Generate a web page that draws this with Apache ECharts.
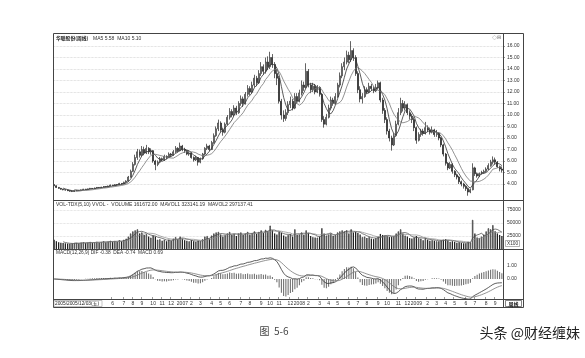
<!DOCTYPE html>
<html>
<head>
<meta charset="utf-8">
<script src="https://cdn.jsdelivr.net/npm/echarts@6.0.0/dist/echarts.min.js"></script>
<style>
html,body{margin:0;padding:0;background:#fff;}
#chart{width:585px;height:358px;}
</style>
</head>
<body>
<div id="chart"></div>
<script>
// ---- weekly OHLC ----
const opens = [
3.95,3.85,3.70,3.62,3.55,3.50,3.48,3.42,3.38,3.35,
3.40,3.45,3.42,3.50,3.55,3.52,3.58,3.62,3.60,3.65,
3.70,3.68,3.72,3.78,3.75,3.82,3.90,3.86,3.95,3.92,
4.05,4.00,4.15,4.25,4.60,5.10,5.70,6.30,6.80,6.50,
7.00,6.70,7.10,6.80,6.90,6.00,5.70,5.90,6.20,6.10,
6.40,6.30,6.60,6.50,6.80,7.10,6.90,7.30,7.00,6.90,
6.60,6.70,6.30,6.10,6.30,5.90,6.20,6.60,7.10,7.30,
7.00,7.60,8.20,8.80,9.30,8.70,8.50,9.20,9.80,10.30,
10.00,10.60,10.20,11.00,11.40,11.00,11.80,12.30,12.00,12.60,
13.20,12.80,13.60,14.20,13.80,14.60,14.20,15.00,14.40,13.60,
13.20,11.20,10.00,9.70,10.20,10.90,11.20,10.60,11.60,11.20,
11.90,12.60,12.40,13.80,12.60,12.20,12.50,12.00,12.40,11.80,
9.60,9.20,9.80,10.60,11.30,11.00,11.60,12.60,13.40,14.20,
14.60,15.20,14.80,15.60,15.00,13.60,12.20,11.40,11.60,12.20,
12.00,12.50,12.30,12.10,12.40,12.80,11.30,10.40,9.60,8.60,
8.00,7.40,8.20,9.20,10.20,11.00,10.60,10.90,10.20,9.90,
9.60,8.90,7.80,8.30,8.60,8.40,8.90,8.70,8.50,8.70,
8.30,8.40,8.00,7.40,6.60,5.80,5.40,5.70,5.10,4.80,
4.60,4.20,4.00,3.80,3.60,3.30,3.50,5.40,4.90,4.70,
4.90,5.00,5.10,5.30,5.60,5.90,6.10,5.90,5.50,5.30];
const closes = [
3.85,3.70,3.62,3.55,3.50,3.48,3.42,3.38,3.35,3.40,
3.45,3.42,3.50,3.55,3.52,3.58,3.62,3.60,3.65,3.70,
3.68,3.72,3.78,3.75,3.82,3.90,3.86,3.95,3.92,4.05,
4.00,4.15,4.25,4.60,5.10,5.70,6.30,6.80,6.50,7.00,
6.70,7.10,6.80,6.90,6.00,5.70,5.90,6.20,6.10,6.40,
6.30,6.60,6.50,6.80,7.10,6.90,7.30,7.00,6.90,6.60,
6.70,6.30,6.10,6.30,5.90,6.20,6.60,7.10,7.30,7.00,
7.60,8.20,8.80,9.30,8.70,8.50,9.20,9.80,10.30,10.00,
10.60,10.20,11.00,11.40,11.00,11.80,12.30,12.00,12.60,13.20,
12.80,13.60,14.20,13.80,14.60,14.20,15.00,14.40,13.60,13.20,
11.20,10.00,9.70,10.20,10.90,11.20,10.60,11.60,11.20,11.90,
12.60,12.40,13.80,12.60,12.20,12.50,12.00,12.40,11.80,9.60,
9.20,9.80,10.60,11.30,11.00,11.60,12.60,13.40,14.20,14.60,
15.20,14.80,15.60,15.00,13.60,12.20,11.40,11.60,12.20,12.00,
12.50,12.30,12.10,12.40,12.80,11.30,10.40,9.60,8.60,8.00,
7.40,8.20,9.20,10.20,11.00,10.60,10.90,10.20,9.90,9.60,
8.90,7.80,8.30,8.60,8.40,8.90,8.70,8.50,8.70,8.30,
8.40,8.00,7.40,6.60,5.80,5.40,5.70,5.10,4.80,4.60,
4.20,4.00,3.80,3.60,3.30,3.50,5.40,4.90,4.70,4.90,
5.00,5.10,5.30,5.60,5.90,6.10,5.90,5.50,5.30,5.20];
const lows = [
3.78,3.66,3.58,3.50,3.45,3.42,3.38,3.33,3.30,3.32,
3.38,3.39,3.40,3.47,3.49,3.50,3.55,3.56,3.58,3.62,
3.64,3.65,3.70,3.71,3.73,3.80,3.82,3.84,3.87,3.90,
3.95,3.98,4.10,4.22,4.55,5.05,5.60,6.10,6.30,6.40,
6.50,6.60,6.60,6.55,5.85,5.20,5.55,5.80,5.95,6.00,
6.15,6.25,6.35,6.45,6.70,6.75,6.85,6.85,6.70,6.50,
6.45,6.20,5.95,6.00,5.60,5.80,6.10,6.50,6.95,6.85,
6.95,7.50,8.10,8.60,8.50,8.20,8.40,9.10,9.60,9.80,
9.90,10.00,10.10,10.80,10.70,10.90,11.60,11.70,11.90,12.40,
12.50,12.70,13.40,13.50,13.60,13.90,14.00,14.10,13.20,12.60,
11.00,9.60,9.40,9.50,10.00,10.60,10.40,10.50,11.00,11.10,
11.70,12.10,12.30,12.40,11.90,12.00,11.80,11.90,11.60,9.40,
8.90,9.10,9.70,10.40,10.80,10.90,11.50,12.40,13.20,13.90,
14.40,14.50,14.60,14.70,13.40,11.90,11.10,11.00,11.50,11.80,
11.90,12.10,11.90,12.00,12.20,11.10,10.10,9.30,8.30,7.70,
6.90,7.30,8.10,9.10,10.00,10.30,10.40,10.00,9.60,9.30,
8.60,7.50,7.70,8.10,8.20,8.30,8.50,8.30,8.40,8.10,
8.10,7.80,7.20,6.40,5.60,5.20,5.30,4.90,4.60,4.40,
4.00,3.80,3.60,3.40,2.98,3.20,3.45,4.70,4.55,4.60,
4.80,4.90,5.00,5.20,5.50,5.70,5.70,5.40,5.10,5.00];
const highs = [
4.02,3.88,3.74,3.66,3.58,3.54,3.52,3.45,3.42,3.44,
3.49,3.48,3.53,3.58,3.58,3.61,3.66,3.65,3.69,3.74,
3.73,3.76,3.82,3.81,3.86,3.95,3.93,3.99,3.98,4.10,
4.08,4.20,4.32,4.70,5.25,5.90,6.55,7.05,7.00,7.30,
7.25,7.40,7.20,7.10,6.95,6.10,6.05,6.35,6.30,6.55,
6.50,6.75,6.70,6.95,7.30,7.20,7.60,7.40,7.15,6.95,
6.85,6.75,6.40,6.45,6.35,6.30,6.70,7.20,7.50,7.40,
7.75,8.40,9.00,9.60,9.45,8.90,9.35,10.00,10.60,10.50,
10.85,10.80,11.20,11.70,11.60,12.00,12.60,12.50,12.90,13.50,
13.40,13.90,14.60,14.40,15.00,15.10,15.50,15.30,14.60,14.00,
13.40,11.40,10.40,10.50,11.20,11.60,11.40,11.90,11.90,12.20,
13.00,12.90,14.50,14.00,12.80,12.80,12.70,12.60,12.50,11.90,
9.90,10.10,10.90,11.60,11.50,11.90,12.80,13.70,14.50,15.00,
15.60,15.50,16.42,15.80,15.20,13.80,12.50,11.90,12.50,12.40,
12.80,12.70,12.50,12.70,13.00,12.90,11.50,10.60,9.80,8.80,
8.20,8.40,9.50,10.60,11.50,11.30,11.20,11.00,10.40,10.10,
9.80,9.00,8.50,8.80,8.80,9.40,9.10,8.90,9.00,8.80,
8.70,8.50,8.10,7.50,6.70,5.90,5.90,5.80,5.20,4.90,
4.70,4.30,4.10,3.90,3.70,3.60,5.80,5.50,5.00,5.00,
5.15,5.25,5.45,5.80,6.10,6.40,6.30,6.00,5.60,5.50];
const volumes = [
18000,15000,13000,12000,11500,11000,10500,10000,10500,11000,
12000,11000,12500,13000,11500,12500,13500,12000,13000,14000,
12500,13500,15000,13000,14500,16000,14000,15500,14000,17000,
15000,18000,20000,24000,30000,34000,36000,38000,30000,32000,
27000,29000,24000,22000,26000,24000,18000,19000,16000,18000,
15000,18000,16000,20000,23000,19000,24000,20000,17000,16000,
15000,17000,15000,14000,16000,15000,19000,24000,25000,20000,
26000,30000,32000,33000,28000,24000,27000,30000,33000,27000,
29000,25000,30000,32000,27000,30000,33000,28000,31000,34000,
29000,33000,36000,31000,37000,34000,45000,36000,30000,28000,
33000,31000,26000,24000,27000,29000,24000,38000,27000,28000,
32000,27000,36000,31000,25000,23000,22000,22000,24000,40000,
30000,26000,28000,30000,25000,27000,32000,34000,36000,34000,
36000,30000,38000,32000,33000,31000,28000,23000,24000,21000,
23000,20000,19000,21000,24000,29000,27000,26000,25000,23000,
24000,25000,30000,34000,38000,30000,26000,24000,21000,20000,
22000,25000,21000,20000,17000,21000,18000,16000,17000,16000,
15000,15000,17000,18000,19000,17000,14000,15000,14000,12000,
13000,12000,11000,11000,14000,13000,56000,30000,22000,21000,
24000,28000,34000,40000,38000,46000,34000,30000,27000,25000];

// first week shown and annotation points (category index, value)
const firstWeek = [2005, 12, 2];
const highMark = [132, 16.42];
const lowMark = [184, 2.98];
const priceArrows = [[40, 2.72]];
const macdArrows = [[157, -1.08], [168, -1.38]];

// texts
const titleName = '华联股份(周线)';
const titleMA = 'MA5 5.58  MA10 5.10';
const volTitle = 'VOL-TDX(5,10) VVOL -  VOLUME 161672.00  MAVOL1 323141.19  MAVOL2 297137.41';
const macdTitle = 'MACD(12,26,9) DIF -0.38  DEA -0.74  MACD 0.69';
const cursorDate = '2005/2005/12/03(五)';

// ---- indicators derived from the closes / volumes ----
function ma(src, n) {
  return src.map((v, i) => {
    if (i < n - 1) return '-';
    let s = 0; for (let k = i - n + 1; k <= i; k++) s += src[k];
    return +(s / n).toFixed(3);
  });
}
function ema(src, n) {
  const a = 2 / (n + 1), out = [];
  src.forEach((v, i) => out.push(i === 0 ? v : a * v + (1 - a) * out[i - 1]));
  return out;
}
const N = closes.length;
const e12 = ema(closes, 12), e26 = ema(closes, 26);
const dif = e12.map((v, i) => v - e26[i]);
const dea = ema(dif, 9);
const hist = dif.map((v, i) => 2 * (v - dea[i]));

const cats = [], months = [], years = [];
for (let i = 0; i < N; i++) {
  const d = new Date(firstWeek[0], firstWeek[1] - 1, firstWeek[2] + 7 * i);
  months.push(d.getMonth() + 1); years.push(d.getFullYear());
  cats.push(d.getFullYear() + '/' + (d.getMonth() + 1) + '/' + d.getDate());
}
const showLabel = (i) => i >= 24 && i > 0 && months[i] !== months[i - 1];

const NUM = "'Liberation Sans', Arial, sans-serif";
const CJK = "'Noto Sans CJK SC', sans-serif";
const INK = '#222';

const candle = opens.map((o, i) => [o, closes[i], lows[i], highs[i]]);
const volData = volumes.map((v, i) => ({
  value: v,
  itemStyle: closes[i] >= opens[i]
    ? { color: '#fff', borderColor: INK, borderWidth: 0.7 }
    : { color: INK }
}));

const L = 53, R = 523, T = 33, B = 307, AX = 503;
const hline = (y) => ({ type: 'line', silent: true, z: 50,
  shape: { x1: L, y1: y + 0.5, x2: R, y2: y + 0.5 }, style: { stroke: '#444', lineWidth: 1 } });

const chart = echarts.init(document.getElementById('chart'));
chart.setOption({
  animation: false,
  backgroundColor: '#fff',
  grid: [
    { left: L, top: 46, width: 450, height: 138 },
    { left: L, top: 210, width: 450, height: 39 },
    { left: L, top: 266, width: 450, height: 26 }
  ],
  xAxis: [0, 1, 2].map(g => ({
    type: 'category', gridIndex: g, data: cats, boundaryGap: true,
    show: g === 2, offset: g === 2 ? 7 : 0,
    axisLine: { show: false, onZero: false },
    axisTick: { show: g === 2, interval: (i) => showLabel(i), length: 2, inside: true,
      lineStyle: { color: '#555', width: 0.6 } },
    splitLine: { show: false },
    axisLabel: {
      show: g === 2, interval: (i) => showLabel(i), margin: 2, fontSize: 5,
      color: '#333', fontFamily: NUM,
      formatter: (v, i) => months[i] === 1 ? String(years[i]) : String(months[i])
    }
  })),
  yAxis: [
    { type: 'value', gridIndex: 0, position: 'right', min: 4, max: 16, interval: 1,
      axisLine: { show: false }, axisTick: { show: true, length: 2, lineStyle: { color: '#555', width: 0.6 } },
      axisLabel: { fontSize: 5, color: '#333', margin: 4, fontFamily: NUM, formatter: v => v.toFixed(2) },
      splitLine: { lineStyle: { type: 'dotted', color: '#c8c8c8', width: 0.7 } } },
    { type: 'value', gridIndex: 1, position: 'right', min: 0, max: 75000, interval: 25000,
      axisLine: { show: false }, axisTick: { show: false },
      axisLabel: { fontSize: 5, color: '#333', margin: 4, fontFamily: NUM, formatter: v => v === 0 ? '' : String(v) },
      splitLine: { lineStyle: { type: 'dotted', color: '#d0d0d0', width: 0.7 } } },
    { type: 'value', gridIndex: 2, position: 'right', min: -1, max: 1, interval: 1,
      axisLine: { show: false }, axisTick: { show: false },
      axisLabel: { fontSize: 5, color: '#333', margin: 4, fontFamily: NUM, formatter: v => v < 0 ? '' : v.toFixed(2) },
      splitLine: { show: false } }
  ],
  series: [
    { type: 'candlestick', xAxisIndex: 0, yAxisIndex: 0, data: candle, clip: false,
      barWidth: 1.5,
      itemStyle: { color: '#fff', color0: INK, borderColor: INK, borderColor0: INK, borderWidth: 0.7 },
      markLine: { silent: true, symbol: ['none', 'none'], label: { show: false },
        lineStyle: { color: '#333', width: 0.6, type: 'solid' },
        data: [
          [{ coord: [highMark[0], highMark[1]] }, { coord: [highMark[0] + 2, highMark[1]] }],
          [{ coord: [lowMark[0], lowMark[1]] }, { coord: [lowMark[0] + 2, lowMark[1]] }]
        ] },
      markPoint: { silent: true,
        data: [
          { coord: [highMark[0] + 2, highMark[1]], symbol: 'circle', symbolSize: 0.1,
            label: { show: true, position: 'right', distance: 1, formatter: highMark[1].toFixed(2),
              fontSize: 5.5, color: '#333', fontFamily: NUM, offset: [0, 2] } },
          { coord: [lowMark[0] + 2, lowMark[1]], symbol: 'circle', symbolSize: 0.1,
            label: { show: true, position: 'right', distance: 1, formatter: lowMark[1].toFixed(2),
              fontSize: 5.5, color: '#333', fontFamily: NUM } }
        ].concat(priceArrows.map(p => ({ coord: p, symbol: 'arrow', symbolSize: [3, 4],
          itemStyle: { color: '#222' }, label: { show: false } })))
      } },
    { type: 'line', xAxisIndex: 0, yAxisIndex: 0, data: ma(closes, 5), clip: false, symbol: 'none',
      lineStyle: { color: '#333', width: 0.8 } },
    { type: 'line', xAxisIndex: 0, yAxisIndex: 0, data: ma(closes, 10), clip: false, symbol: 'none',
      lineStyle: { color: '#777', width: 0.8 } },
    { type: 'bar', xAxisIndex: 1, yAxisIndex: 1, data: volData, barWidth: 1.3 },
    { type: 'line', xAxisIndex: 1, yAxisIndex: 1, data: ma(volumes, 5), symbol: 'none',
      lineStyle: { color: '#444', width: 0.7 } },
    { type: 'line', xAxisIndex: 1, yAxisIndex: 1, data: ma(volumes, 10), symbol: 'none',
      lineStyle: { color: '#888', width: 0.7 } },
    { type: 'bar', xAxisIndex: 2, yAxisIndex: 2, data: hist.map(v => +v.toFixed(3)), barWidth: 0.7, clip: false,
      itemStyle: { color: '#666' } },
    { type: 'line', xAxisIndex: 2, yAxisIndex: 2, data: dif.map(v => +v.toFixed(3)), symbol: 'none', clip: false,
      lineStyle: { color: '#333', width: 0.8 },
      markPoint: { silent: true, data: macdArrows.map(p => ({ coord: p, symbol: 'arrow', symbolSize: [3.5, 5],
        itemStyle: { color: '#111' }, label: { show: false } })) } },
    { type: 'line', xAxisIndex: 2, yAxisIndex: 2, data: dea.map(v => +v.toFixed(3)), symbol: 'none', clip: false,
      lineStyle: { color: '#777', width: 0.8 } }
  ],
  graphic: [
    { type: 'rect', silent: true, z: 50, shape: { x: L + 0.5, y: T + 0.5, width: R - L, height: B - T },
      style: { fill: 'none', stroke: '#444', lineWidth: 1 } },
    { type: 'line', silent: true, z: 50, shape: { x1: AX + 0.5, y1: T, x2: AX + 0.5, y2: B },
      style: { stroke: '#444', lineWidth: 1 } },
    hline(200), hline(249), hline(299),
    { type: 'text', x: 56, y: 38.5, z: 60, style: { text: titleName, font: 'bold 4.8px ' + CJK, fill: '#111', verticalAlign: 'middle' } },
    { type: 'text', x: 93, y: 38.5, z: 60, style: { text: titleMA, font: '5px ' + NUM, fill: '#333', verticalAlign: 'middle' } },
    { type: 'text', x: 492, y: 37.5, z: 60, style: { text: '◇⊟', font: '5px ' + CJK, fill: '#666', verticalAlign: 'middle' } },
    { type: 'text', x: 56, y: 204.5, z: 60, style: { text: volTitle, font: '5px ' + NUM, fill: '#333', verticalAlign: 'middle' } },
    { type: 'text', x: 56, y: 253, z: 60, style: { text: macdTitle, font: '4.8px ' + NUM, fill: '#333', verticalAlign: 'middle' } },
    { type: 'rect', silent: true, z: 55, shape: { x: 54, y: 300.5, width: 48, height: 6 }, style: { fill: '#fff', stroke: '#888', lineWidth: 0.5 } },
    { type: 'text', x: 55, y: 303.8, z: 60, style: { text: cursorDate, font: '4.8px ' + NUM + ',' + CJK, fill: '#222', verticalAlign: 'middle' } },
    { type: 'rect', silent: true, z: 55, shape: { x: 505.5, y: 240.5, width: 14, height: 6 }, style: { fill: '#fff', stroke: '#666', lineWidth: 0.5 } },
    { type: 'text', x: 507, y: 243.6, z: 60, style: { text: 'X100', font: '4.8px ' + NUM, fill: '#333', verticalAlign: 'middle' } },
    { type: 'rect', silent: true, z: 55, shape: { x: 505.5, y: 300.5, width: 16, height: 6 }, style: { fill: '#fff', stroke: '#333', lineWidth: 0.6 } },
    { type: 'text', x: 513.5, y: 303.6, z: 60, style: { text: '周线', font: 'bold 5px ' + CJK, fill: '#111', align: 'center', verticalAlign: 'middle' } },
    { type: 'text', x: 274, y: 331, z: 60, style: { text: '图  5-6', font: '10px ' + CJK, fill: '#444', align: 'center', verticalAlign: 'middle' } },
    { type: 'text', x: 580, y: 333, z: 60, style: { text: '头条 @财经缠妹', font: '14px ' + CJK, fill: '#222', align: 'right', verticalAlign: 'middle' } }
  ]
});
</script>
</body>
</html>
